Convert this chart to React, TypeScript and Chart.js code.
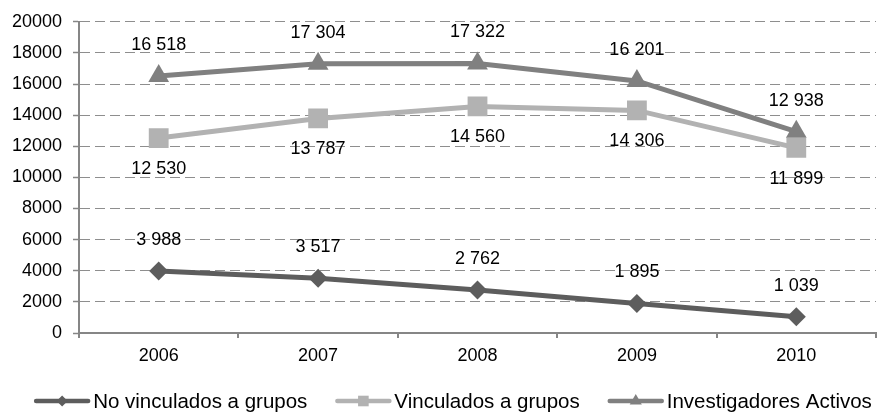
import React, { useEffect, useRef } from "react";
import { Chart, registerables } from "chart.js";
import { drawPoint } from "chart.js/helpers";

Chart.register(...registerables);

// Years on the category axis
const years = ["2006", "2007", "2008", "2009", "2010"];

// Researchers per year
const noVinculados = [3988, 3517, 2762, 1895, 1039];
const vinculados = [12530, 13787, 14560, 14306, 11899];
const investigadoresActivos = [16518, 17304, 17322, 16201, 12938];

// Value axis range
const yMin = 0;
const yMax = 20000;
const yStep = 2000;

const FONT = '"Liberation Sans", Arial, Helvetica, sans-serif';
const AXIS_COLOR = "#868686";
const GRID_COLOR = "#8e8e8e";

type Series = {
  label: string;
  data: number[];
  color: string;
  pointStyle: "rectRot" | "rect" | "triangle";
  radius: number;
  legendRadius: number;
  labelSide: number; // -1 above the point, +1 below
};

const series: Series[] = [
  {
    label: "No vinculados a grupos",
    data: noVinculados,
    color: "#5d5d5d",
    pointStyle: "rectRot",
    radius: 9.5,
    legendRadius: 5.5,
    labelSide: -1,
  },
  {
    label: "Vinculados a grupos",
    data: vinculados,
    color: "#b2b2b2",
    pointStyle: "rect",
    radius: 14,
    legendRadius: 7.5,
    labelSide: 1,
  },
  {
    label: "Investigadores Activos",
    data: investigadoresActivos,
    color: "#808080",
    pointStyle: "triangle",
    radius: 12,
    legendRadius: 7,
    labelSide: -1,
  },
];

const formatValue = (v: number) =>
  String(v).replace(/\B(?=(\d{3})+(?!\d))/g, " ");

// Number written above / below every point
const valueLabels = {
  id: "valueLabels",
  afterDatasetsDraw(chart: any) {
    const ctx = chart.ctx as CanvasRenderingContext2D;
    ctx.save();
    ctx.font = `18px ${FONT}`;
    ctx.fillStyle = "#000000";
    ctx.textAlign = "center";
    ctx.textBaseline = "middle";
    chart.data.datasets.forEach((ds: any, i: number) => {
      const meta = chart.getDatasetMeta(i);
      const side = series[i].labelSide;
      meta.data.forEach((pt: any, j: number) => {
        ctx.fillText(formatValue(ds.data[j]), pt.x, pt.y + side * 31);
      });
    });
    ctx.restore();
  },
};

// Legend row: line sample with its marker, then the series name
const legendRow = {
  id: "legendRow",
  afterDraw(chart: any) {
    const ctx = chart.ctx as CanvasRenderingContext2D;
    const lineW = 56;
    const gap = 3;
    const spacing = 28;
    const cx = 453;
    const cy = 401;
    ctx.save();
    ctx.font = `20.5px ${FONT}`;
    const widths = series.map((s) => ctx.measureText(s.label).width);
    const total =
      widths.reduce((a, w) => a + lineW + gap + w, 0) +
      spacing * (series.length - 1);
    let x = cx - total / 2;
    series.forEach((s, i) => {
      ctx.strokeStyle = s.color;
      ctx.lineWidth = 4.5;
      ctx.lineCap = "round";
      ctx.beginPath();
      ctx.moveTo(x + 2, cy);
      ctx.lineTo(x + lineW - 2, cy);
      ctx.stroke();
      ctx.fillStyle = s.color;
      drawPoint(
        ctx,
        { pointStyle: s.pointStyle, radius: s.legendRadius, rotation: 0, borderWidth: 0 } as any,
        x + lineW / 2,
        cy
      );
      ctx.fillStyle = "#000000";
      ctx.textAlign = "left";
      ctx.textBaseline = "middle";
      ctx.fillText(s.label, x + lineW + gap, cy + 1);
      x += lineW + gap + widths[i] + spacing;
    });
    ctx.restore();
  },
};

export default function App() {
  const canvasRef = useRef<HTMLCanvasElement | null>(null);

  useEffect(() => {
    document.body.style.margin = "0";
    document.body.style.overflow = "hidden";
    const canvas = canvasRef.current;
    if (!canvas) return;
    const chart = new Chart(canvas, {
      type: "line",
      data: {
        labels: years,
        datasets: series.map((s) => ({
          label: s.label,
          data: s.data,
          borderColor: s.color,
          backgroundColor: s.color,
          borderWidth: 5,
          pointStyle: s.pointStyle,
          pointRadius: s.radius,
          pointBackgroundColor: s.color,
          pointBorderColor: s.color,
          pointBorderWidth: 0,
          tension: 0,
          fill: false,
        })),
      },
      options: {
        responsive: false,
        animation: false,
        devicePixelRatio: 1,
        layout: { padding: { top: 19, right: 2, left: 0, bottom: 0 } },
        plugins: {
          legend: { display: false },
          tooltip: { enabled: false },
        },
        scales: {
          x: {
            type: "category",
            offset: true,
            grid: {
              display: true,
              offset: true,
              drawOnChartArea: false,
              drawTicks: true,
              tickLength: 5,
              color: AXIS_COLOR,
              lineWidth: 2,
            },
            border: { display: true, color: AXIS_COLOR, width: 2 },
            ticks: {
              font: { family: FONT, size: 18 },
              color: "#000000",
              padding: 7,
            },
            afterFit: (scale: any) => {
              scale.height = 80;
            },
          },
          y: {
            min: yMin,
            max: yMax,
            ticks: {
              stepSize: yStep,
              font: { family: FONT, size: 18 },
              color: "#000000",
              padding: 11,
              callback: (value: any) => String(value),
            },
            grid: {
              color: GRID_COLOR,
              lineWidth: 1,
              tickLength: 6,
              tickColor: AXIS_COLOR,
              tickWidth: 1.5,
            },
            border: { display: true, color: AXIS_COLOR, width: 2, dash: [10, 5] },
            afterFit: (scale: any) => {
              scale.width = 79;
            },
          },
        },
      },
      plugins: [valueLabels, legendRow],
    });
    return () => chart.destroy();
  }, []);

  return (
    <div style={{ width: 880, height: 413, overflow: "hidden", background: "#ffffff" }}>
      <canvas ref={canvasRef} width={890} height={413} style={{ display: "block" }} />
    </div>
  );
}
